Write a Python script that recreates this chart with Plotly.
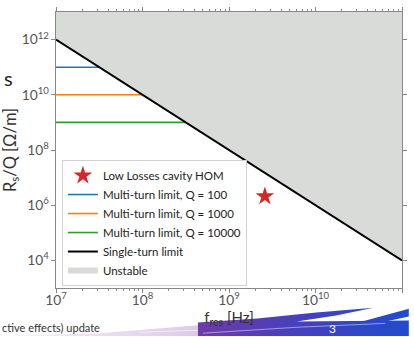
import base64
import plotly.graph_objects as go

# ---- data ----
f_single = [1e7, 1e11]            # Hz
rq_single = [1e12, 1e4]           # Ohm/m, single-turn limit (~ f^-2)
q_values = [100, 1000, 10000]
rq_multi = [1e11, 1e10, 1e9]      # multi-turn limits
f_multi_end = [10 ** 7.5, 1e8, 10 ** 8.5]
multi_colors = ["#1f77b4", "#ff7f0e", "#2ca02c"]
hom_f = [2.6e9]
hom_rq = [2.1e6]
y_top = 1e13

W, H = 414, 337
ML, MR, MT, MB = 56, 7, 7, 49
PW, PH = W - ML - MR, H - MT - MB


def px(x):
    return (x - ML) / PW


def py(y):
    return (H - MB - y) / PH


fig = go.Figure()

# unstable region above the single-turn limit
fig.add_trace(go.Scatter(
    x=[f_single[0], f_single[1], f_single[1], f_single[0]],
    y=[rq_single[0], rq_single[1], y_top, y_top],
    fill="toself", fillcolor="#d8dbd8", mode="none",
    name="Unstable", legendrank=6, hoverinfo="skip"))

for q, rq, fe, c, r in zip(q_values, rq_multi, f_multi_end, multi_colors, [2, 3, 4]):
    fig.add_trace(go.Scatter(
        x=[f_single[0], fe], y=[rq, rq], mode="lines",
        line=dict(color=c, width=1.6),
        name=f"Multi-turn limit, Q = {q}", legendrank=r))

fig.add_trace(go.Scatter(
    x=f_single, y=rq_single, mode="lines",
    line=dict(color="black", width=2),
    name="Single-turn limit", legendrank=5))

fig.add_trace(go.Scatter(
    x=hom_f, y=hom_rq, mode="markers",
    marker=dict(symbol="star", size=14, color="#d62728", line=dict(width=0)),
    name="Low Losses cavity HOM", legendrank=1))

axis_common = dict(
    type="log", showgrid=False, zeroline=False,
    showline=True, linecolor="#888", linewidth=1,
    ticks="outside", ticklen=4, tickcolor="#888", mirror="allticks",
    exponentformat="power", showexponent="all",
    tickfont=dict(family="Lato", size=11, color="#555"),
)

fig.update_xaxes(
    **axis_common, range=[7, 11], dtick=1, ticklabelstandoff=-4,
    minor=dict(ticks="outside", ticklen=2, tickcolor="#888", dtick="D1", showgrid=False),
    title=dict(text="f<sub>res</sub> [Hz]", font=dict(family="Lato", size=15, color="#333"), standoff=0),
)
fig.update_yaxes(
    **axis_common, range=[3, 13], dtick=2,
    title=dict(text="R<sub>s</sub>/Q [Ω/m]", font=dict(family="Lato", size=16.5, color="#333"), standoff=3),
)

# slide decoration strip along the bottom
svg = f"""<svg xmlns='http://www.w3.org/2000/svg' width='414' height='42' viewBox='0 295 414 42' preserveAspectRatio='none'>
<defs>
<linearGradient id='g' gradientUnits='userSpaceOnUse' x1='200' y1='0' x2='414' y2='0'>
<stop offset='0' stop-color='#6e3aa8'/><stop offset='0.5' stop-color='#4540be'/><stop offset='1' stop-color='#1f4ccd'/>
</linearGradient>
<linearGradient id='l' gradientUnits='userSpaceOnUse' x1='0' y1='0' x2='200' y2='0'>
<stop offset='0' stop-color='#f8f4f9'/><stop offset='1' stop-color='#dccbe6'/>
</linearGradient>
</defs>
<path d='M0,336.5 L100,334 L200,326 L200,337 L0,337 Z' fill='url(#l)'/>
<path d='M200,337 L200,323 L260,319 L320,313 L378,308 L340,316 L300,322 L414,321 L414,337 Z' fill='url(#g)'/>
<path d='M345,328 L414,309 L414,317 L368,327 Z' fill='url(#g)'/>
<path d='M205,334 L300,328 L390,324' stroke='white' stroke-width='0.8' fill='none' opacity='0.6'/>
<path d='M140,333 L200,331' stroke='white' stroke-width='0.8' fill='none' opacity='0.7'/>
</svg>"""
src = "data:image/svg+xml;base64," + base64.b64encode(svg.encode()).decode()
fig.add_layout_image(dict(
    source=src, xref="paper", yref="paper",
    x=px(0), y=py(295), sizex=W / PW, sizey=42 / PH,
    xanchor="left", yanchor="top", sizing="stretch", layer="below"))

fig.add_annotation(text="s", xref="paper", yref="paper", x=px(1), y=py(74),
                   xanchor="left", yanchor="middle", showarrow=False,
                   font=dict(family="Lato", size=20, color="#222"))
fig.add_annotation(text="ctive effects) update", xref="paper", yref="paper",
                   x=px(-1), y=py(328), xanchor="left", yanchor="middle", showarrow=False,
                   font=dict(family="Lato", size=11, color="#333"))
fig.add_annotation(text="3", xref="paper", yref="paper", x=px(337), y=py(329),
                   xanchor="center", yanchor="middle", showarrow=False,
                   font=dict(family="Lato", size=12, color="white"))

fig.update_layout(
    width=W, height=H,
    margin=dict(l=ML, r=MR, t=MT, b=MB),
    paper_bgcolor="white", plot_bgcolor="white",
    showlegend=True,
    legend=dict(
        x=px(62), y=py(286), xanchor="left", yanchor="bottom",
        bgcolor="white", bordercolor="#d0d0d0", borderwidth=1,
        font=dict(family="Lato", size=11.5, color="#222"),
        tracegroupgap=0,
    ),
)

fig.write_html("out.html")
